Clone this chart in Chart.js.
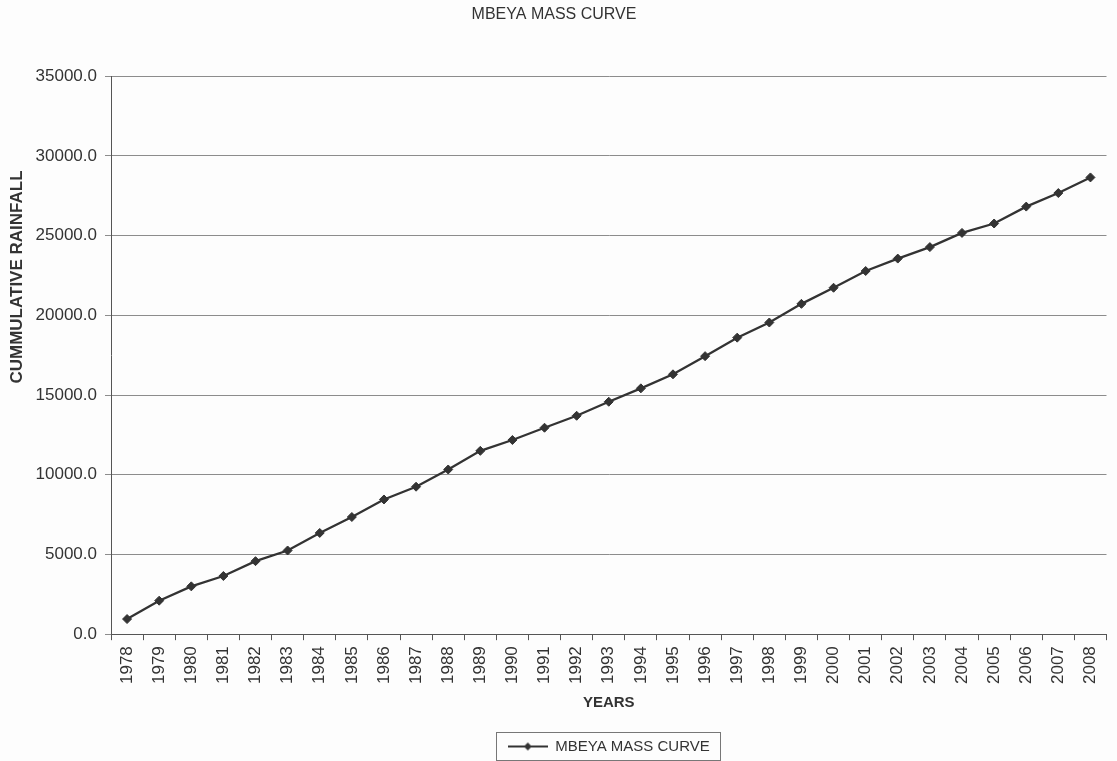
<!DOCTYPE html>
<html>
<head>
<meta charset="utf-8">
<title>MBEYA MASS CURVE</title>
<script src="https://cdn.jsdelivr.net/npm/chart.js@4/dist/chart.umd.min.js"></script>
<style>
  html, body { margin: 0; padding: 0; background: #fdfdfd; }
  #wrap { width: 1117px; height: 761px; position: relative; }
</style>
</head>
<body>
<div id="wrap"><canvas id="graf"></canvas></div>
<script>
// years on the x axis
const years = ['1978','1979','1980','1981','1982','1983','1984','1985','1986','1987',
  '1988','1989','1990','1991','1992','1993','1994','1995','1996','1997',
  '1998','1999','2000','2001','2002','2003','2004','2005','2006','2007','2008']
// cumulative rainfall
const cumRain = [950, 2100, 3000, 3650, 4580, 5250, 6350, 7350, 8450, 9250,
  10330, 11500, 12180, 12950, 13700, 14580, 15420, 16300, 17440, 18600,
  19550, 20720, 21730, 22780, 23560, 24280, 25170, 25760, 26820, 27670, 28650]
const yTicks = [0, 5000, 10000, 15000, 20000, 25000, 30000, 35000]

const ink = '#333333'
const font = 'Liberation Sans, Arial, sans-serif'

// little line + diamond sample for the legend
function legendMark(){
  const c = document.createElement('canvas')
  c.width = 40
  c.height = 12
  const g = c.getContext('2d')
  g.strokeStyle = ink
  g.lineWidth = 2
  g.beginPath()
  g.moveTo(0, 6)
  g.lineTo(40, 6)
  g.stroke()
  g.fillStyle = ink
  g.beginPath()
  g.moveTo(20, 2)
  g.lineTo(24, 6)
  g.lineTo(20, 10)
  g.lineTo(16, 6)
  g.closePath()
  g.fill()
  return c
}
const mark = legendMark()

// y title sits above centre in the original, so draw it by hand; legend is
// centred under the plot and boxed
const extras = {
  id: 'extras',
  afterLayout(chart){
    const lg = chart.legend
    const ca = chart.chartArea
    const d = (ca.left + ca.right) / 2 - (lg.left + lg.right) / 2
    lg.left += d
    lg.right += d
    lg.top += 3
    lg.bottom += 3
  },
  afterDraw(chart){
    const ctx = chart.ctx
    ctx.save()
    ctx.fillStyle = ink
    ctx.font = 'bold 17px ' + font
    ctx.textAlign = 'center'
    ctx.textBaseline = 'middle'
    ctx.translate(17, 277)
    ctx.rotate(-Math.PI / 2)
    ctx.fillText('CUMMULATIVE RAINFALL', 0, 0)
    ctx.restore()

    const hb = chart.legend.legendHitBoxes[0]
    if(hb){
      ctx.save()
      ctx.strokeStyle = '#777'
      ctx.lineWidth = 1
      ctx.strokeRect(Math.round(hb.left) - 11.5, Math.round(hb.top) - 6.5, Math.round(hb.width) + 22, Math.round(hb.height) + 13)
      ctx.restore()
    }
  }
}

const graph = document.getElementById('graf')
new Chart(graph, {
  type: 'line',
  data: {
    labels: years,
    datasets: [{
      label: 'MBEYA MASS CURVE',
      data: cumRain,
      borderColor: ink,
      backgroundColor: ink,
      borderWidth: 2.3,
      fill: false,
      tension: 0,
      pointStyle: 'rectRot',
      pointRadius: 4.5,
      pointBackgroundColor: ink,
      pointBorderColor: ink,
      pointBorderWidth: 1
    }]
  },
  options: {
    responsive: true,
    maintainAspectRatio: false,
    animation: false,
    layout: { padding: { left: 0, right: 9, top: 0, bottom: 0 } },
    plugins: {
      title: {
        display: true,
        text: 'MBEYA MASS CURVE',
        color: ink,
        font: { family: font, size: 16, weight: 'normal' },
        padding: { top: 5, bottom: 52 }
      },
      legend: {
        display: true,
        position: 'bottom',
        labels: {
          color: ink,
          font: { family: font, size: 15 },
          usePointStyle: true,
          pointStyle: mark,
          pointStyleWidth: 40,
          padding: 3
        }
      },
      tooltip: { enabled: false }
    },
    scales: {
      x: {
        offset: true,
        grid: {
          offset: true,
          drawOnChartArea: false,
          drawTicks: true,
          tickLength: 6,
          color: '#555'
        },
        border: { display: true, color: '#555', width: 1 },
        ticks: {
          color: ink,
          font: { family: font, size: 17 },
          minRotation: 90,
          maxRotation: 90,
          autoSkip: false,
          padding: 6
        },
        title: {
          display: true,
          text: 'YEARS',
          color: ink,
          font: { family: font, size: 15, weight: 'bold' },
          padding: { top: 4, bottom: 21 }
        }
      },
      y: {
        min: 0,
        max: 35000,
        afterFit(scale){ scale.width = 111 },
        afterBuildTicks(scale){ scale.ticks = yTicks.map(v => ({ value: v })) },
        grid: {
          color: '#8c8c8c',
          lineWidth: 1,
          drawTicks: true,
          tickLength: 6
        },
        border: { display: true, color: '#555', width: 1 },
        ticks: {
          color: ink,
          font: { family: font, size: 17 },
          padding: 8,
          callback: v => Number(v).toFixed(1)
        }
      }
    }
  },
  plugins: [extras]
})
</script>
</body>
</html>
